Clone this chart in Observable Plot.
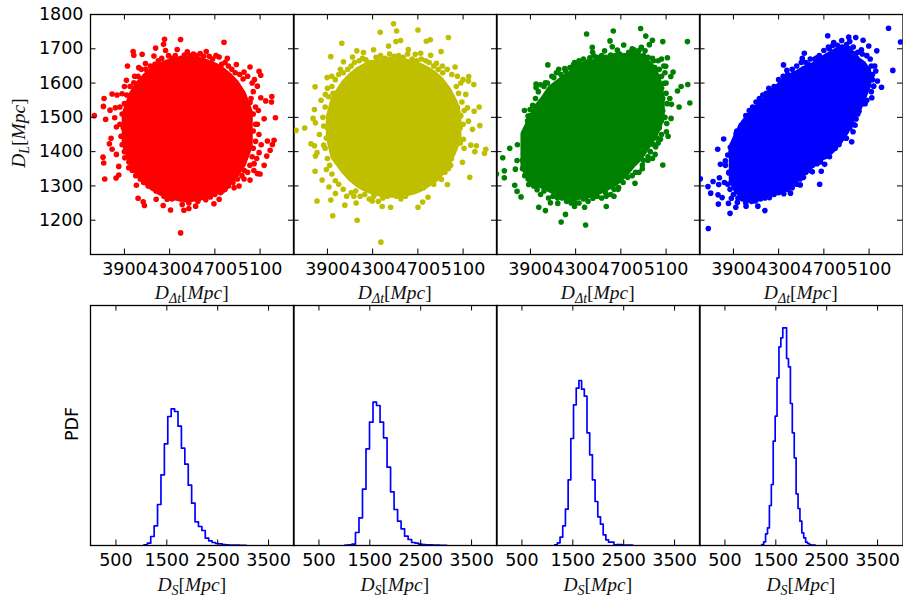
<!DOCTYPE html>
<html><head><meta charset="utf-8">
<script src="https://cdn.jsdelivr.net/npm/d3@7"></script>
<script src="https://cdn.jsdelivr.net/npm/@observablehq/plot@0.6"></script>
<style>html,body{margin:0;background:#fff}#w{position:relative;width:903px;height:600px;overflow:hidden}#w svg{position:absolute}</style>
</head><body><div id="w"></div>
<script>
// Scatter: outlying points, the fringe around each cloud, and the solid envelope of each cloud.
const redDots=[[3634,1505],[3720,1555],[3714,1532],[3734,1494],[3773,1521],[3791,1568],[3835,1565],[3820,1528],[3814,1499],[3829,1472],[3782,1439],[3767,1423],[3791,1407],[3829,1392],[3711,1384],[3717,1367],[3726,1320],[3826,1323],[3850,1357],[3850,1332],[3903,1382],[3938,1353],[4006,1302],[4021,1264],[4066,1254],[4077,1243],[4181,1261],[4243,1243],[4308,1230],[4278,1261],[4337,1266],[4411,1246],[4426,1229],[4470,1234],[4530,1241],[4397,1163],[4692,1248],[4738,1261],[4766,1285],[4870,1295],[4914,1300],[4958,1320],[5011,1317],[5076,1336],[5100,1335],[5136,1360],[5047,1365],[5091,1397],[5159,1387],[5189,1404],[5209,1421],[5224,1433],[5165,1431],[5076,1480],[5136,1496],[5236,1499],[5201,1545],[5204,1561],[5150,1548],[5106,1557],[5011,1543],[5076,1591],[5106,1623],[5091,1634],[5011,1647],[4958,1632],[4890,1654],[4810,1672],[4781,1719],[4738,1676],[4624,1692],[4456,1691],[4397,1727],[4367,1698],[4255,1728],[4246,1713],[4264,1695],[4176,1702],[4161,1679],[4057,1684],[3977,1692],[3983,1681],[3927,1650],[4027,1645],[4086,1657],[3918,1608],[3983,1601],[3879,1569],[3953,1562]];
const redFringe=[[4090,1640],[4130,1650],[4170,1655],[4110,1625],[4200,1665],[4230,1672],[4290,1680],[4320,1672],[4350,1680],[4400,1672],[4430,1682],[4480,1680],[4510,1685],[4540,1680],[4570,1686],[4600,1678],[4650,1678],[4680,1670],[4710,1680],[4760,1655],[4790,1660],[4820,1650],[4850,1640],[4880,1630],[4920,1625],[4950,1612],[4990,1620],[5030,1600],[5050,1610],[5040,1575],[5020,1555],[5060,1530],[5040,1510],[5085,1520],[5060,1480],[5040,1460],[5090,1450],[5060,1430],[5110,1420],[5040,1410],[5070,1380],[5030,1385],[5010,1360],[5045,1345],[4990,1340],[4960,1345],[4940,1330],[4900,1320],[4860,1310],[4820,1300],[4790,1290],[4750,1280],[4700,1275],[4660,1268],[4620,1260],[4590,1268],[4550,1255],[4500,1262],[4470,1250],[4440,1260],[4400,1262],[4360,1272],[4320,1262],[4290,1268],[4250,1270],[4220,1280],[4180,1285],[4150,1295],[4110,1300],[4070,1310],[4040,1320],[4000,1330],[3970,1345],[3940,1370],[3900,1400],[3880,1420],[3870,1445],[3890,1470],[3860,1480],[3880,1510],[3860,1530],[3900,1540],[3920,1565],[3900,1590],[3950,1590],[3990,1620],[4020,1620],[4050,1640]];
const redCoreX=[3920,3980,4040,4100,4160,4220,4280,4340,4400,4460,4520,4580,4640,4700,4760,4820,4880,4940,5000];
const redCoreLow=[1422,1366,1335,1313,1297,1285,1276,1270,1266,1265,1266,1269,1276,1284,1296,1312,1333,1363,1416];
const redCoreHigh=[1508,1564,1595,1617,1633,1645,1654,1660,1664,1665,1664,1661,1654,1646,1634,1618,1597,1567,1514];

const yellowDots=[[3622,1462],[3699,1469],[3773,1497],[3794,1484],[3785,1523],[3844,1550],[3882,1567],[3791,1589],[3897,1616],[3938,1620],[3930,1677],[4027,1716],[4042,1662],[4015,1640],[4122,1676],[4160,1694],[4219,1689],[4308,1697],[4367,1748],[4485,1773],[4512,1752],[4441,1708],[4506,1721],[4547,1724],[4701,1755],[4775,1722],[4810,1726],[4970,1733],[4905,1692],[4615,1698],[4677,1684],[4725,1687],[4813,1681],[4864,1658],[4917,1650],[5029,1647],[5150,1619],[5195,1596],[5147,1606],[5124,1567],[5242,1530],[5198,1518],[5139,1528],[5248,1476],[5183,1465],[5147,1489],[5103,1436],[5168,1419],[5218,1417],[5204,1400],[5301,1407],[5289,1395],[5109,1410],[4997,1379],[5094,1369],[5159,1325],[4961,1304],[4908,1319],[4790,1267],[4742,1253],[4701,1238],[4459,1238],[4385,1240],[4163,1200],[3947,1213],[4373,1136],[4054,1244],[4154,1250],[3930,1259],[3808,1256],[3914,1297],[3971,1278],[3853,1317],[3891,1348],[3791,1343],[3794,1387],[3808,1397],[3755,1423],[3785,1417],[3867,1419],[3829,1450],[3867,1475],[4134,1270],[4296,1256],[4562,1280]];
const yellowFringe=[[3970,1610],[4000,1625],[4040,1630],[4080,1640],[4110,1650],[4140,1660],[4180,1665],[4210,1672],[4240,1668],[4280,1660],[4330,1675],[4370,1680],[4410,1672],[4450,1685],[4490,1678],[4530,1680],[4570,1675],[4610,1685],[4650,1670],[4690,1665],[4730,1670],[4770,1665],[4800,1660],[4840,1650],[4880,1640],[4920,1630],[4960,1640],[5000,1625],[5050,1620],[5080,1600],[5040,1590],[5100,1610],[5060,1570],[5090,1545],[5050,1530],[5080,1505],[5110,1520],[5040,1490],[5075,1470],[5100,1480],[5050,1450],[5075,1425],[5030,1415],[5010,1395],[4990,1360],[4970,1350],[4940,1340],[4900,1335],[4860,1320],[4840,1305],[4790,1310],[4750,1295],[4710,1290],[4670,1295],[4630,1285],[4590,1270],[4550,1262],[4510,1270],[4470,1275],[4430,1270],[4390,1265],[4350,1255],[4310,1270],[4270,1262],[4230,1275],[4190,1270],[4150,1285],[4110,1280],[4070,1270],[4040,1290],[4000,1305],[3970,1315],[3940,1335],[3920,1360],[3900,1380],[3880,1410],[3890,1440],[3900,1470],[3860,1500],[3880,1530],[3910,1560],[3900,1585],[3940,1590],[3950,1570]];
const yellowCoreX=[3930,3970,4000,4060,4120,4180,4240,4300,4360,4420,4480,4540,4600,4660,4720,4780,4840,4900,4960,5020,5050];
const yellowCoreLow=[1440,1385,1372,1345,1323,1307,1295,1287,1281,1278,1277,1278,1281,1286,1294,1306,1320,1340,1368,1410,1440];
const yellowCoreHigh=[1500,1550,1566,1596,1617,1633,1644,1652,1657,1660,1662,1660,1657,1652,1645,1635,1622,1604,1578,1540,1505];

const greenDots=[[3600,1335],[3655,1382],[3669,1344],[3669,1324],[3717,1410],[3785,1420],[3782,1374],[3767,1349],[3761,1302],[3782,1284],[3817,1268],[3885,1304],[3847,1520],[3897,1523],[3879,1504],[3950,1587],[3950,1597],[4003,1548],[4033,1601],[4054,1653],[4151,1640],[4204,1642],[4281,1653],[4107,1616],[4397,1743],[4447,1704],[4426,1674],[4462,1679],[4524,1671],[4556,1694],[4604,1723],[4633,1752],[4624,1706],[4669,1696],[4725,1711],[4742,1678],[4816,1697],[4875,1759],[4920,1737],[4979,1725],[4952,1712],[5071,1721],[5289,1721],[4881,1704],[4914,1694],[4979,1672],[5112,1674],[5097,1649],[5162,1632],[5142,1619],[5082,1599],[5233,1590],[5292,1596],[5201,1577],[5133,1555],[5310,1542],[5215,1530],[5147,1538],[5144,1497],[5106,1482],[5103,1458],[5118,1445],[5050,1436],[5008,1414],[5003,1392],[4940,1385],[5071,1361],[4890,1361],[4825,1308],[4669,1316],[4675,1290],[4639,1270],[4571,1240],[4453,1264],[4379,1238],[4388,1186],[4299,1251],[4210,1217],[4172,1195],[4033,1228],[3974,1238],[4077,1251],[4142,1249],[3959,1289],[4565,1280]];
const greenFringe=[[3840,1395],[3830,1375],[3830,1350],[3850,1330],[3880,1320],[3845,1440],[3860,1465],[3875,1490],[3900,1505],[3920,1535],[3945,1555],[3970,1575],[3990,1595],[4020,1590],[4050,1600],[4090,1620],[4130,1630],[4170,1625],[4210,1635],[4250,1645],[4290,1660],[4330,1665],[4370,1670],[4410,1662],[4450,1690],[4490,1675],[4530,1680],[4570,1675],[4610,1682],[4650,1680],[4690,1685],[4730,1680],[4770,1690],[4800,1700],[4835,1690],[4860,1695],[4900,1680],[4940,1675],[4990,1665],[5030,1665],[5060,1670],[5080,1650],[5040,1640],[5000,1645],[5060,1620],[5090,1630],[5100,1600],[5060,1585],[5100,1570],[5070,1555],[5110,1540],[5070,1520],[5090,1500],[5060,1490],[5040,1470],[5060,1450],[5020,1440],[5030,1425],[4990,1420],[4960,1400],[4980,1380],[4940,1375],[4900,1375],[4890,1350],[4860,1340],[4830,1340],[4800,1330],[4760,1325],[4720,1310],[4680,1295],[4640,1290],[4610,1275],[4570,1270],[4530,1265],[4490,1270],[4450,1280],[4410,1255],[4370,1262],[4330,1250],[4290,1240],[4260,1250],[4220,1255],[4180,1265],[4140,1265],[4100,1270],[4060,1265],[4020,1285],[3990,1275],[3960,1300],[3930,1300],[3900,1310]];
const greenCoreX=[3856,3915,3974,4033,4092,4151,4210,4269,4328,4388,4447,4506,4565,4624,4683,4742,4802,4861,4920,4979,5023,5053];
const greenCoreLow=[1353,1324,1309,1300,1290,1280,1271,1266,1271,1271,1281,1286,1296,1305,1320,1339,1364,1383,1412,1441,1470,1500];
const greenCoreHigh=[1450,1489,1528,1552,1581,1596,1611,1623,1645,1649,1654,1659,1662,1664,1666,1669,1679,1674,1659,1640,1606,1557];

const blueDots=[[3607,1321],[3675,1298],[3699,1279],[3678,1176],[3720,1313],[3770,1304],[3776,1324],[3764,1274],[3767,1247],[3800,1266],[3856,1249],[3870,1220],[3882,1264],[3921,1238],[3935,1252],[4012,1241],[4009,1251],[4116,1241],[4178,1228],[4089,1256],[4219,1266],[4346,1277],[4405,1279],[4491,1303],[4663,1305],[4598,1341],[4677,1343],[4707,1363],[4834,1421],[4899,1439],[4946,1429],[4958,1458],[4976,1477],[4908,1470],[5011,1518],[5065,1540],[5124,1557],[5210,1588],[5174,1606],[5141,1591],[5310,1637],[5159,1635],[5168,1694],[5097,1708],[5032,1697],[5272,1760],[5378,1720],[5047,1725],[4982,1733],[4920,1734],[4929,1721],[4858,1724],[4787,1718],[4734,1738],[4748,1700],[4908,1701],[4639,1674],[4527,1687],[4509,1672],[4562,1655],[4343,1653],[4373,1637],[4213,1585],[4237,1579],[4125,1543],[4110,1528],[4051,1509],[4027,1492],[3968,1477],[3924,1453],[3814,1437],[3761,1407],[3873,1413],[3785,1363],[3829,1373],[3859,1338],[4473,1630],[4302,1591]];
const blueFringe=[[3890,1330],[3860,1340],[3830,1360],[3850,1390],[3880,1400],[3890,1420],[3910,1430],[3930,1460],[3960,1470],[3990,1480],[4010,1505],[4040,1520],[4070,1530],[4100,1545],[4130,1555],[4160,1565],[4190,1570],[4230,1575],[4260,1590],[4300,1610],[4340,1620],[4380,1625],[4420,1640],[4460,1650],[4500,1660],[4540,1660],[4580,1670],[4620,1670],[4660,1680],[4700,1695],[4740,1705],[4780,1710],[4820,1710],[4860,1705],[4900,1712],[4930,1700],[4960,1705],[5000,1690],[5040,1685],[5080,1680],[5110,1670],[5120,1650],[5150,1650],[5130,1625],[5090,1640],[5100,1610],[5130,1610],[5090,1590],[5120,1575],[5060,1570],[5080,1550],[5040,1540],[5010,1530],[5000,1510],[4985,1495],[4960,1480],[4930,1470],[4900,1480],[4880,1455],[4870,1440],[4840,1430],[4800,1410],[4760,1400],[4750,1385],[4710,1385],[4670,1370],[4640,1365],[4600,1360],[4570,1345],[4540,1340],[4520,1325],[4490,1320],[4460,1305],[4420,1295],[4380,1290],[4340,1285],[4300,1280],[4260,1275],[4220,1275],[4180,1265],[4140,1262],[4100,1258],[4060,1255],[4020,1258],[3980,1262],[3940,1265],[3900,1275],[3870,1290],[3850,1305],[3820,1310],[3880,1310]];
const blueCoreX=[3903,3947,4006,4066,4125,4184,4243,4302,4361,4420,4479,4538,4598,4657,4716,4775,4834,4893,4952,4997,5041,5085];
const blueCoreLow=[1315,1286,1271,1271,1271,1281,1286,1291,1296,1310,1330,1349,1364,1379,1393,1408,1432,1461,1504,1524,1558,1596];
const blueCoreHigh=[1412,1446,1481,1505,1525,1544,1564,1583,1603,1616,1625,1637,1642,1657,1669,1681,1691,1691,1681,1662,1652,1632];

// Histograms: bin edges (Mpc) and PDF (units of 1e-5 per Mpc)
const edges1=[1050,1117,1184,1251,1318,1385,1452,1519,1586,1653,1720,1787,1854,1921,1988,2055,2122,2189,2256,2323,2390,2457,2524,2591,2658,2725,2792,2859,2926,2993,3060];
const pdf1=[0.7,2.3,9,19.7,41,70.7,101.7,129,136.7,134,119.3,97.3,81.3,60.3,42.3,23.7,19,15,7.3,4.7,3,2,1.7,1,0.7,0.5,0.3,0.3,0.2,0.2];
const edges2=[1011,1080,1149,1218,1287,1356,1425,1494,1563,1632,1701,1770,1839,1908,1977,2046,2115,2184,2253,2322,2391,2460,2529,2598,2667,2736,2805,2874,2943,3012];
const pdf2=[0.3,0.7,1.3,13,27.7,56.3,96.7,123.3,143.3,140,123.3,107.7,78.3,53.7,36,24.3,16.7,9.3,6,3,2.3,1.3,1,0.7,0.7,0.5,0.3,0.2,0.2];
const edges3=[1143,1196,1249,1302,1355,1408,1461,1514,1567,1620,1673,1726,1779,1832,1885,1938,1991,2044,2097,2150,2203,2256,2309,2362,2415,2468,2521,2574,2627,2680];
const pdf3=[0.7,2.7,8.3,19.7,36.3,65.7,107,140.7,157.3,165,156.3,149.3,112.7,90.7,65.7,44,28.7,21.3,10.7,5.7,3.3,3.3,0.7,1,1,0.3,0.3,0.3,0.3];
const edges4=[1224,1262,1299,1337,1374,1412,1449,1487,1524,1562,1599,1637,1674,1712,1749,1787,1824,1862,1899,1937,1974,2012,2049,2087,2124,2162,2199,2237,2274];
const pdf4=[1,3.7,11.7,17.7,40,61,104.3,129.3,167.7,198.7,207.7,217.7,217.7,187,178.7,142,112.7,87.7,51.7,37,24.3,12.7,7.7,3.3,2,0.7,0.3,0.3];

const scatterXTicks=[3900,4300,4700,5100];
const scatterYTicks=[1200,1300,1400,1500,1600,1700,1800];
const histXTicks=[500,1500,2500,3500];

const panels=[
 {left:90,color:"#ff0000",dots:redDots.concat(redFringe),cx:redCoreX,lo:redCoreLow,hi:redCoreHigh,edges:edges1,pdf:pdf1},
 {left:293,color:"#bfbf00",dots:yellowDots.concat(yellowFringe),cx:yellowCoreX,lo:yellowCoreLow,hi:yellowCoreHigh,edges:edges2,pdf:pdf2},
 {left:496,color:"#008000",dots:greenDots.concat(greenFringe),cx:greenCoreX,lo:greenCoreLow,hi:greenCoreHigh,edges:edges3,pdf:pdf3},
 {left:699,color:"#0000ff",dots:blueDots.concat(blueFringe),cx:blueCoreX,lo:blueCoreLow,hi:blueCoreHigh,edges:edges4,pdf:pdf4}
];

const FS=17.5, TL=5.5, W=203.5, H=240, ML=60, MR=8, MT=8, MB=40;
const wrap=document.getElementById("w");
const base={width:W+ML+MR,height:H+MT+MB,marginLeft:ML,marginRight:MR,marginTop:MT,marginBottom:MB,
  style:{background:"transparent",overflow:"visible",fontFamily:"DejaVu Sans",color:"#000"}};
function ticks(xt,yt){
  const m=[
    Plot.tickX(xt,{x:d=>d,insetBottom:H-TL,stroke:"#000",strokeWidth:1}),
    Plot.tickX(xt,{x:d=>d,insetTop:H-TL,stroke:"#000",strokeWidth:1})];
  if(yt) m.push(
    Plot.tickY(yt,{y:d=>d,insetRight:W-TL,stroke:"#000",strokeWidth:1}),
    Plot.tickY(yt,{y:d=>d,insetLeft:W-TL,stroke:"#000",strokeWidth:1}));
  return m;
}
function place(svg,left,top){svg.style.left=(left-ML)+"px";svg.style.top=(top-MT)+"px";wrap.appendChild(svg);}
const plain=d=>String(d);

panels.forEach((p,i)=>{
  const core=d3.zip(p.cx,p.lo,p.hi);
  const top=Plot.plot({...base,
    x:{domain:[3600,5400],axis:null},y:{domain:[1100,1800],axis:null},
    marks:[
      Plot.area(core,{x1:d=>d[0],y1:d=>d[1],y2:d=>d[2],fill:p.color,stroke:p.color,strokeWidth:9,strokeLinejoin:"round",clip:true}),
      Plot.dot(p.dots,{x:d=>d[0],y:d=>d[1],r:2.8,fill:p.color,clip:true}),
      ...ticks(scatterXTicks,scatterYTicks.slice(0,-1)),
      Plot.axisX(scatterXTicks,{anchor:"bottom",tickSize:0,tickPadding:8,fontSize:FS,label:null,tickFormat:plain}),
      i===0?Plot.axisY(scatterYTicks,{anchor:"left",tickSize:0,tickPadding:7,fontSize:FS,label:null,tickFormat:plain}):null,
      Plot.frame({stroke:"#000",strokeWidth:1.3})
    ]});
  place(top,p.left,13.5);

  const line=[[p.edges[0],0],...p.pdf.map((v,j)=>[p.edges[j],v]),[p.edges[p.edges.length-1],0]];
  const bot=Plot.plot({...base,
    x:{domain:[0,4000],axis:null},y:{domain:[0,240],axis:null},
    marks:[
      Plot.line(line,{x:d=>d[0],y:d=>d[1],curve:"step-after",stroke:"#0000ff",strokeWidth:1.7,clip:true}),
      ...ticks(histXTicks,null),
      Plot.axisX(histXTicks,{anchor:"bottom",tickSize:0,tickPadding:8,fontSize:FS,label:null,tickFormat:plain}),
      Plot.frame({stroke:"#000",strokeWidth:1.3})
    ]});
  place(bot,p.left,304.5);
});

// Axis titles with sub/superscripts, as real text on an overlay svg
const ov=d3.select(wrap).append("svg").attr("width",903).attr("height",600).style("left",0).style("top",0).style("pointer-events","none");
function mathLabel(g,main,sub){
  const t=g.append("text").attr("text-anchor","middle").attr("font-family","Liberation Serif").attr("font-size",19.5).attr("fill","#111");
  t.append("tspan").attr("font-style","italic").text(main);
  t.append("tspan").attr("font-style","italic").attr("font-size",14).attr("dy",4).text(sub);
  t.append("tspan").attr("dy",-4).text("[");
  t.append("tspan").attr("font-style","italic").text("Mpc");
  t.append("tspan").text("]");
}
panels.forEach(p=>{
  const cx=p.left+W/2;
  mathLabel(ov.append("g").attr("transform",`translate(${cx},299)`),"D","Δt");
  mathLabel(ov.append("g").attr("transform",`translate(${cx},591)`),"D","S");
});
mathLabel(ov.append("g").attr("transform","translate(25,133) rotate(-90)"),"D","L");
ov.append("text").attr("transform","translate(78,424) rotate(-90)").attr("text-anchor","middle")
  .attr("font-family","DejaVu Sans").attr("font-size",FS).attr("fill","#000").text("PDF");
</script></body></html>
